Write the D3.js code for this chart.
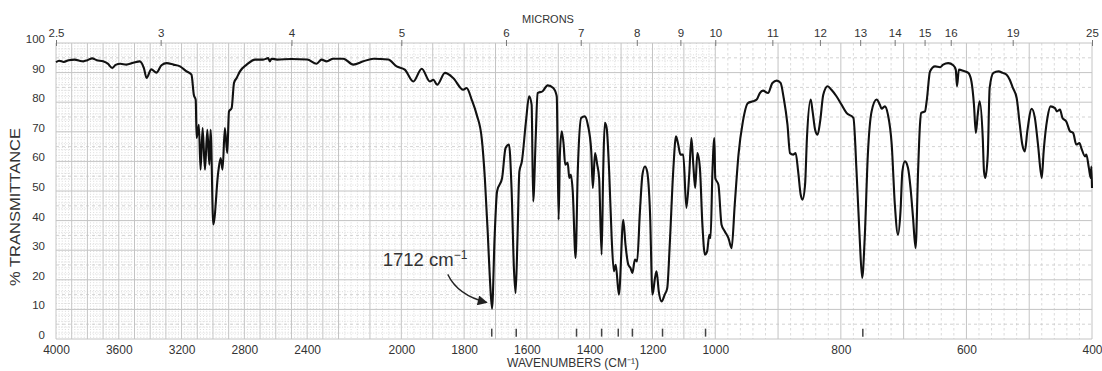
<!DOCTYPE html>
<html>
<head>
<meta charset="utf-8">
<script src="https://cdnjs.cloudflare.com/ajax/libs/d3/7.8.5/d3.min.js"></script>
<style>
  body { margin: 0; background: #fff; }
  text { font-family: Arial, "Liberation Sans", Helvetica, sans-serif; fill: #333; }
</style>
</head>
<body>
<div id="chart"></div>
<script>
// spectrum: [wavenumber cm-1, % transmittance]
const spectrum = [
  [4000, 93.5], [3980, 94.0], [3950, 93.6], [3920, 94.2], [3880, 94.4], [3850, 94.0],
  [3826, 93.8], [3800, 94.2], [3770, 94.8], [3740, 94.2], [3700, 93.8], [3670, 93.0],
  [3642, 91.6], [3620, 92.6], [3590, 93.0], [3552, 92.7], [3508, 93.3], [3466, 93.8],
  [3440, 91.5], [3423, 88.2], [3393, 91.1], [3360, 90.0], [3328, 92.5], [3295, 93.2],
  [3252, 92.7], [3210, 92.1], [3168, 90.4], [3137, 89.3], [3122, 82.5], [3110, 80.8],
  [3104, 67.9], [3090, 72.4], [3079, 57.2], [3066, 71.3], [3051, 57.2], [3036, 70.7],
  [3023, 58.9], [3015, 70.7], [2998, 38.7], [2966, 56.6], [2951, 61.1], [2939, 57.2],
  [2924, 71.3], [2909, 62.8], [2898, 76.9], [2881, 78.0], [2866, 86.5], [2849, 88.2],
  [2828, 90.4], [2785, 92.7], [2732, 94.4], [2680, 94.4], [2648, 94.9], [2638, 93.8],
  [2627, 94.7], [2592, 94.4], [2500, 94.6], [2400, 94.4], [2340, 93.0], [2308, 94.4],
  [2276, 93.8], [2234, 94.7], [2185, 94.7], [2153, 92.7], [2121, 93.8], [2089, 94.7],
  [2042, 94.4], [2015, 92.1], [1989, 91.0], [1962, 87.0], [1935, 91.3], [1909, 87.0],
  [1898, 87.6], [1886, 85.9], [1861, 89.9], [1835, 88.2], [1803, 84.2], [1792, 84.8],
  [1776, 80.9], [1760, 75.8], [1744, 67.9], [1734, 54.4], [1725, 36.4], [1718, 20.6],
  [1711, 10.2], [1703, 34.1], [1695, 49.9], [1679, 54.4], [1668, 64.5], [1657, 65.7],
  [1649, 51.0], [1641, 22.9], [1636, 15.5], [1630, 34.1], [1624, 56.6], [1616, 60.0],
  [1603, 73.5], [1593, 82.0], [1585, 79.2], [1580, 46.5], [1572, 67.9], [1566, 83.1],
  [1550, 83.7], [1534, 85.7], [1516, 84.8], [1505, 82.0], [1499, 40.3], [1495, 62.3],
  [1489, 70.2], [1483, 65.7], [1478, 58.9], [1470, 59.5], [1465, 54.4], [1460, 55.5],
  [1454, 49.9], [1445, 27.4], [1438, 56.6], [1427, 74.7], [1416, 75.2], [1406, 72.4],
  [1395, 63.4], [1390, 51.0], [1383, 62.8], [1376, 58.9], [1370, 54.4], [1362, 28.5],
  [1357, 56.6], [1352, 73.0], [1346, 71.3], [1338, 56.6], [1330, 34.1], [1323, 22.9],
  [1317, 25.1], [1307, 15.0], [1293, 40.3], [1286, 31.9], [1277, 25.1], [1270, 24.0],
  [1264, 22.3], [1256, 26.8], [1249, 26.2], [1240, 43.1], [1232, 55.5], [1224, 58.3],
  [1217, 56.6], [1208, 43.1], [1200, 15.0], [1192, 20.6], [1187, 22.9], [1180, 16.1],
  [1171, 12.7], [1161, 15.0], [1153, 17.2], [1145, 31.9], [1134, 56.6], [1125, 68.5],
  [1118, 65.7], [1111, 62.3], [1102, 62.3], [1092, 44.3], [1083, 55.5], [1076, 67.9],
  [1070, 58.9], [1064, 51.0], [1057, 62.8], [1049, 57.8], [1041, 38.6], [1033, 28.5],
  [1026, 29.6], [1019, 35.2], [1015, 34.1], [1009, 56.6], [1003, 67.9], [1000, 54.4],
  [995, 52.1], [990, 38.6], [985, 36.4], [979, 34.1], [974, 30.7], [969, 45.4],
  [963, 62.3], [956, 73.5], [948, 79.7], [940, 80.3], [934, 80.9], [929, 83.1],
  [924, 83.9], [916, 83.1], [909, 86.5], [902, 87.3], [896, 86.5], [891, 81.4],
  [885, 72.4], [881, 62.8], [876, 62.3], [872, 62.8], [868, 56.6], [864, 48.8],
  [861, 47.1], [857, 52.1], [854, 67.9], [848, 80.9], [845, 76.9], [841, 70.7],
  [837, 69.0], [833, 73.5], [828, 82.5], [821, 85.4], [815, 84.2], [807, 82.0],
  [799, 79.2], [791, 76.4], [780, 74.7], [775, 56.6], [770, 34.1], [766, 20.6],
  [762, 34.1], [757, 62.3], [751, 76.9], [743, 80.9], [738, 79.2], [735, 77.8],
  [730, 78.6], [725, 75.8], [719, 65.7], [714, 45.4], [709, 35.2], [705, 43.1],
  [702, 56.6], [698, 60.0], [693, 57.8], [689, 51.0], [685, 40.9], [681, 30.7],
  [677, 56.6], [674, 72.4], [672, 76.4], [666, 76.9], [663, 80.9], [658, 90.4],
  [650, 92.1], [642, 91.8], [637, 92.7], [629, 93.2], [621, 92.5], [617, 91.0],
  [615, 85.4], [612, 91.0], [605, 90.6], [597, 89.9], [592, 87.0], [588, 79.2],
  [585, 69.6], [582, 75.8], [579, 80.3], [574, 67.9], [572, 56.6], [570, 54.4],
  [566, 62.3], [563, 84.8], [557, 89.9], [549, 90.4], [542, 89.9], [536, 89.3],
  [531, 87.6], [526, 84.8], [520, 81.4], [515, 72.4], [511, 65.7], [507, 63.4],
  [503, 70.2], [496, 77.8], [491, 74.7], [486, 65.7], [480, 54.4], [477, 63.4],
  [471, 74.7], [466, 78.6], [459, 78.0], [456, 76.9], [451, 77.5], [447, 74.7],
  [441, 73.5], [435, 70.2], [430, 69.6], [425, 65.7], [420, 66.2], [417, 64.5],
  [411, 61.7], [409, 62.3], [405, 57.8], [402, 54.4], [401, 58.3], [400, 51.0]
];

const wavenumberTicks = [4000, 3600, 3200, 2800, 2400, 2000, 1800, 1600, 1400, 1200, 1000, 800, 600, 400];
const micronTicks = [2.5, 3, 4, 5, 6, 7, 8, 9, 10, 11, 12, 13, 14, 15, 16, 19, 25];
const transmittanceTicks = [0, 10, 20, 30, 40, 50, 60, 70, 80, 90, 100];
const peakMarks = [1712, 1634, 1442, 1362, 1309, 1264, 1168, 1031, 765];
const calloutPeak = [1712, 10];

const width = 1102;
const height = 371;
const margin = { top: 43, right: 10, bottom: 32, left: 56 };
const plotW = width - margin.left - margin.right;

const svg = d3.select('#chart').append('svg')
    .attr('width', width)
    .attr('height', height);

// chart paper: 4000-2200 at half scale, 2200-1000 normal, 1000-400 double
const x = d3.scaleLinear()
    .domain([4000, 2200, 1000, 400])
    .range([margin.left, margin.left + plotW * 3 / 11, margin.left + plotW * 7 / 11, margin.left + plotW]);

const y = d3.scaleLinear()
    .domain([0, 100])
    .range([height - margin.bottom, margin.top]);

// grid
const grid = svg.append('g');

const minorX = d3.range(400, 4000, 20).filter(d => d % 100 !== 0);
grid.selectAll('.vminor')
    .data(minorX)
    .enter().append('line')
    .attr('x1', d => x(d)).attr('x2', d => x(d))
    .attr('y1', y(100)).attr('y2', y(0))
    .attr('stroke', '#d2d2d2')
    .attr('stroke-width', 0.8)
    .attr('stroke-dasharray', d => d > 1000 ? '1,1.6' : '2.5,2.5');

const minorY = d3.range(2, 100, 2).filter(d => d % 10 !== 0);
grid.selectAll('.hminor')
    .data(minorY)
    .enter().append('line')
    .attr('x1', x(4000)).attr('x2', x(1000))
    .attr('y1', d => y(d)).attr('y2', d => y(d))
    .attr('stroke', '#d6d6d6')
    .attr('stroke-width', 0.8)
    .attr('stroke-dasharray', '1,1.6');

grid.selectAll('.hhalf')
    .data(d3.range(5, 100, 10))
    .enter().append('line')
    .attr('x1', x(4000)).attr('x2', x(400))
    .attr('y1', d => y(d)).attr('y2', d => y(d))
    .attr('stroke', '#c8c8c8')
    .attr('stroke-width', 0.8)
    .attr('stroke-dasharray', '3,3');

grid.selectAll('.vmajor')
    .data(d3.range(400, 4001, 100))
    .enter().append('line')
    .attr('x1', d => x(d)).attr('x2', d => x(d))
    .attr('y1', y(100)).attr('y2', y(0))
    .attr('stroke', '#c4c4c4')
    .attr('stroke-width', 1);

grid.selectAll('.hmajor')
    .data(transmittanceTicks)
    .enter().append('line')
    .attr('x1', x(4000)).attr('x2', x(400))
    .attr('y1', d => y(d)).attr('y2', d => y(d))
    .attr('stroke', '#c4c4c4')
    .attr('stroke-width', 1);

// axes
const bottomAxis = svg.append('g')
    .attr('transform', `translate(0,${y(0)})`)
    .call(d3.axisBottom(x)
        .tickValues(wavenumberTicks)
        .tickFormat(d3.format('d'))
        .tickSize(0).tickPadding(6));

const topAxis = svg.append('g')
    .attr('transform', `translate(0,${y(100)})`)
    .call(d3.axisTop(x)
        .tickValues(micronTicks.map(m => 1e4 / m))
        .tickFormat((d, i) => micronTicks[i])
        .tickSizeInner(-3).tickSizeOuter(0).tickPadding(6));

const leftAxis = svg.append('g')
    .attr('transform', `translate(${x(4000)},0)`)
    .call(d3.axisLeft(y).tickValues(transmittanceTicks).tickSize(0).tickPadding(11));

[bottomAxis, topAxis, leftAxis].forEach(a => {
    a.select('.domain').remove();
    a.selectAll('text').style('font-size', '11.5px').attr('fill', '#333');
    a.selectAll('line').attr('stroke', '#777');
});
bottomAxis.selectAll('text').style('font-size', '12px');
leftAxis.selectAll('text').attr('dy', '-0.05em');
topAxis.selectAll('.tick line').attr('y1', -3).attr('y2', 3);

// peak marks along the bottom
svg.selectAll('.peak-mark')
    .data(peakMarks)
    .enter().append('line')
    .attr('class', 'peak-mark')
    .attr('x1', d => x(d)).attr('x2', d => x(d))
    .attr('y1', y(3.5)).attr('y2', y(0.8))
    .attr('stroke', '#444')
    .attr('stroke-width', 1.5);

// spectrum
const line = d3.line()
    .x(d => x(d[0]))
    .y(d => y(d[1]))
    .curve(d3.curveMonotoneX);

svg.append('path')
    .datum(spectrum)
    .attr('d', line)
    .attr('fill', 'none')
    .attr('stroke', '#111')
    .attr('stroke-width', 2.1)
    .attr('stroke-linejoin', 'round');

// titles
svg.append('text')
    .attr('x', 548).attr('y', 23)
    .attr('text-anchor', 'middle')
    .style('font-size', '11px')
    .text('MICRONS');

svg.append('text')
    .attr('x', 573).attr('y', 367)
    .attr('text-anchor', 'middle')
    .style('font-size', '12px')
    .text('WAVENUMBERS (CM\u207B\u00B9)');

svg.append('text')
    .attr('transform', 'translate(20,207) rotate(-90)')
    .attr('text-anchor', 'middle')
    .style('font-size', '14px')
    .attr('textLength', 158)
    .attr('lengthAdjust', 'spacingAndGlyphs')
    .text('% TRANSMITTANCE');

// callout for the carbonyl band
const px = x(calloutPeak[0]);
const py = y(calloutPeak[1]);

svg.append('defs').append('marker')
    .attr('id', 'arrow')
    .attr('viewBox', '0 0 10 10')
    .attr('refX', 9).attr('refY', 5)
    .attr('markerWidth', 16).attr('markerHeight', 10)
    .attr('markerUnits', 'userSpaceOnUse')
    .attr('orient', 'auto')
    .append('path')
    .attr('d', 'M0,0L10,5L0,10Z')
    .attr('fill', '#222');

svg.append('path')
    .attr('d', `M${px - 44},${py - 35} Q${px - 34},${py - 14} ${px - 5},${py - 7}`)
    .attr('fill', 'none')
    .attr('stroke', '#222')
    .attr('stroke-width', 1.3)
    .attr('marker-end', 'url(#arrow)');

const callout = svg.append('text')
    .attr('x', px - 109).attr('y', py - 43)
    .style('font-size', '18.5px')
    .attr('fill', '#222');
callout.append('tspan').text('1712 cm');
callout.append('tspan').attr('dy', -7).style('font-size', '12px').text('\u22121');
</script>
</body>
</html>
